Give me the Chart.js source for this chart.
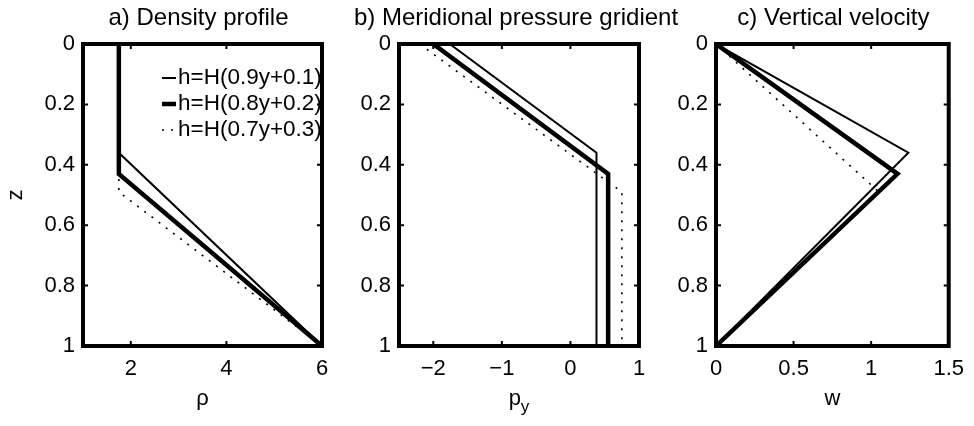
<!DOCTYPE html>
<html>
<head>
<meta charset="utf-8">
<script src="https://cdn.jsdelivr.net/npm/chart.js@4.4.1/dist/chart.umd.min.js"></script>
<style>
  body { margin: 0; background: #fff; width: 974px; height: 426px; position: relative; overflow: hidden; }
  .panel { position: absolute; top: 0; height: 426px; }
</style>
</head>
<body>
<div class="panel" style="left:0;width:340px"><canvas id="density"></canvas></div>
<div class="panel" style="left:330px;width:360px"><canvas id="pressure"></canvas></div>
<div class="panel" style="left:660px;width:314px"><canvas id="velocity"></canvas></div>
<script>
// interface cases
const legendLabels = ['h=H(0.9y+0.1)', 'h=H(0.8y+0.2)', 'h=H(0.7y+0.3)'];

// depth of each profile's break points, per case
const zThin = [0, 0.36, 1];
const zThick = [0, 0.43, 1];
const zDot = [0, 0.49, 1];

// a) density
const rhoThin = [1.75, 1.75, 6];
const rhoThick = [1.75, 1.75, 6];
const rhoDot = [1.75, 1.75, 6];

// b) meridional pressure gradient
const pyThin = [-1.76, 0.38, 0.38];
const pyThick = [-2.0, 0.55, 0.55];
const pyDot = [-2.2, 0.75, 0.75];

// c) vertical velocity
const wThin = [0, 1.24, 0];
const wThick = [0, 1.17, 0];
const wDot = [0, 1.05, 0];

const zTicks = [0, 0.2, 0.4, 0.6, 0.8, 1];
const rhoTicks = [2, 4, 6];
const pyTicks = [-2, -1, 0, 1];
const wTicks = [0, 0.5, 1, 1.5];

const FONT = "'Liberation Sans', Arial, Helvetica, sans-serif";
const lineStyles = [
    { width: 2, dash: [] },
    { width: 4.5, dash: [] },
    { width: 1.6, dash: [2, 7] }
];

const fmt = v => String(v).replace('-', '\u2212');

// frame, inward ticks, titles, axis labels and legend (matlab look)
const panelText = {
    id: 'panelText',
    afterDatasetsDraw(chart) {
        const { ctx, chartArea: a, scales } = chart;
        ctx.save();
        ctx.strokeStyle = '#000';
        ctx.lineWidth = 2;
        ctx.beginPath();
        scales.x.ticks.forEach(t => {
            const px = scales.x.getPixelForValue(t.value);
            ctx.moveTo(px, a.top); ctx.lineTo(px, a.top + 5);
            ctx.moveTo(px, a.bottom); ctx.lineTo(px, a.bottom - 5);
        });
        scales.y.ticks.forEach(t => {
            const py = scales.y.getPixelForValue(t.value);
            ctx.moveTo(a.left, py); ctx.lineTo(a.left + 5, py);
            ctx.moveTo(a.right, py); ctx.lineTo(a.right - 5, py);
        });
        ctx.stroke();
        ctx.lineWidth = 4;
        ctx.strokeRect(a.left, a.top, a.right - a.left, a.bottom - a.top);
        ctx.restore();
    },
    afterDraw(chart, args, opts) {
        const { ctx, chartArea: a } = chart;
        const cx = (a.left + a.right) / 2;
        ctx.save();
        ctx.fillStyle = '#000';
        ctx.textAlign = 'center';
        ctx.textBaseline = 'middle';
        ctx.font = '24px ' + FONT;
        ctx.fillText(opts.title, cx + (opts.titleShift || 0), a.top - 26);

        ctx.font = '22px ' + FONT;
        if (opts.xSub) {
            const w1 = ctx.measureText(opts.xLabel).width;
            ctx.font = '17px ' + FONT;
            const w2 = ctx.measureText(opts.xSub).width;
            const x0 = cx - (w1 + w2) / 2;
            ctx.textAlign = 'left';
            ctx.font = '22px ' + FONT;
            ctx.fillText(opts.xLabel, x0, a.bottom + 53);
            ctx.font = '17px ' + FONT;
            ctx.fillText(opts.xSub, x0 + w1, a.bottom + 61);
        } else {
            ctx.fillText(opts.xLabel, cx, a.bottom + 53);
        }

        if (opts.yLabel) {
            ctx.save();
            ctx.translate(a.left - 67, (a.top + a.bottom) / 2);
            ctx.rotate(-Math.PI / 2);
            ctx.textAlign = 'center';
            ctx.font = '22px ' + FONT;
            ctx.fillText(opts.yLabel, 0, 0);
            ctx.restore();
        }

        if (opts.legend) {
            ctx.textAlign = 'left';
            ctx.font = '22.5px ' + FONT;
            chart.data.datasets.forEach((ds, i) => {
                const y = a.top + 34 + i * 26;
                ctx.lineWidth = ds.borderWidth;
                ctx.setLineDash(ds.borderDash || []);
                ctx.beginPath();
                ctx.moveTo(a.left + 79, y);
                ctx.lineTo(a.left + 93, y);
                ctx.stroke();
                ctx.setLineDash([]);
                ctx.fillText(ds.label, a.left + 95, y);
            });
        }
        ctx.restore();
    }
};

function makePanel(id, p) {
    const datasets = p.series.map((s, i) => ({
        label: legendLabels[i],
        data: s.x.map((v, k) => ({ x: v, y: s.z[k] })),
        showLine: true,
        borderColor: '#000',
        backgroundColor: '#000',
        borderWidth: lineStyles[i].width,
        borderDash: lineStyles[i].dash,
        borderCapStyle: 'butt',
        borderJoinStyle: 'miter',
        pointRadius: 0,
        tension: 0
    }));
    return new Chart(document.getElementById(id), {
        type: 'scatter',
        data: { datasets },
        options: {
            responsive: true,
            maintainAspectRatio: false,
            animation: false,
            events: [],
            layout: { padding: { top: 44, right: p.padRight, left: 0, bottom: 0 } },
            plugins: {
                legend: { display: false },
                tooltip: { enabled: false },
                panelText: p.text
            },
            scales: {
                x: {
                    type: 'linear',
                    min: p.xMin,
                    max: p.xMax,
                    afterBuildTicks: s => { s.ticks = p.xTicks.map(v => ({ value: v })); },
                    afterFit: s => { s.height = 80; },
                    grid: { display: false, drawTicks: false },
                    border: { display: false },
                    ticks: { color: '#000', font: { family: FONT, size: 22 }, padding: 10, maxRotation: 0, callback: fmt }
                },
                y: {
                    type: 'linear',
                    reverse: true,
                    min: 0,
                    max: 1,
                    afterBuildTicks: s => { s.ticks = zTicks.map(v => ({ value: v })); },
                    afterFit: s => { s.width = p.axisWidth; },
                    grid: { display: false, drawTicks: false },
                    border: { display: false },
                    ticks: { color: '#000', font: { family: FONT, size: 22 }, padding: 8, callback: fmt }
                }
            }
        },
        plugins: [panelText]
    });
}

makePanel('density', {
    series: [{ x: rhoThin, z: zThin }, { x: rhoThick, z: zThick }, { x: rhoDot, z: zDot }],
    xMin: 1, xMax: 6, xTicks: rhoTicks,
    axisWidth: 83, padRight: 18,
    text: { title: 'a) Density profile', xLabel: '\u03c1', yLabel: 'z', legend: true, titleShift: -4 }
});

makePanel('pressure', {
    series: [{ x: pyThin, z: zThin }, { x: pyThick, z: zThick }, { x: pyDot, z: zDot }],
    xMin: -2.5, xMax: 1, xTicks: pyTicks,
    axisWidth: 69, padRight: 51,
    text: { title: 'b) Meridional pressure gridient', xLabel: 'p', xSub: 'y', titleShift: -3 }
});

makePanel('velocity', {
    series: [{ x: wThin, z: zThin }, { x: wThick, z: zThick }, { x: wDot, z: zDot }],
    xMin: 0, xMax: 1.5, xTicks: wTicks,
    axisWidth: 56, padRight: 19,
    text: { title: 'c) Vertical velocity', xLabel: 'w', titleShift: 1 }
});
</script>
</body>
</html>
